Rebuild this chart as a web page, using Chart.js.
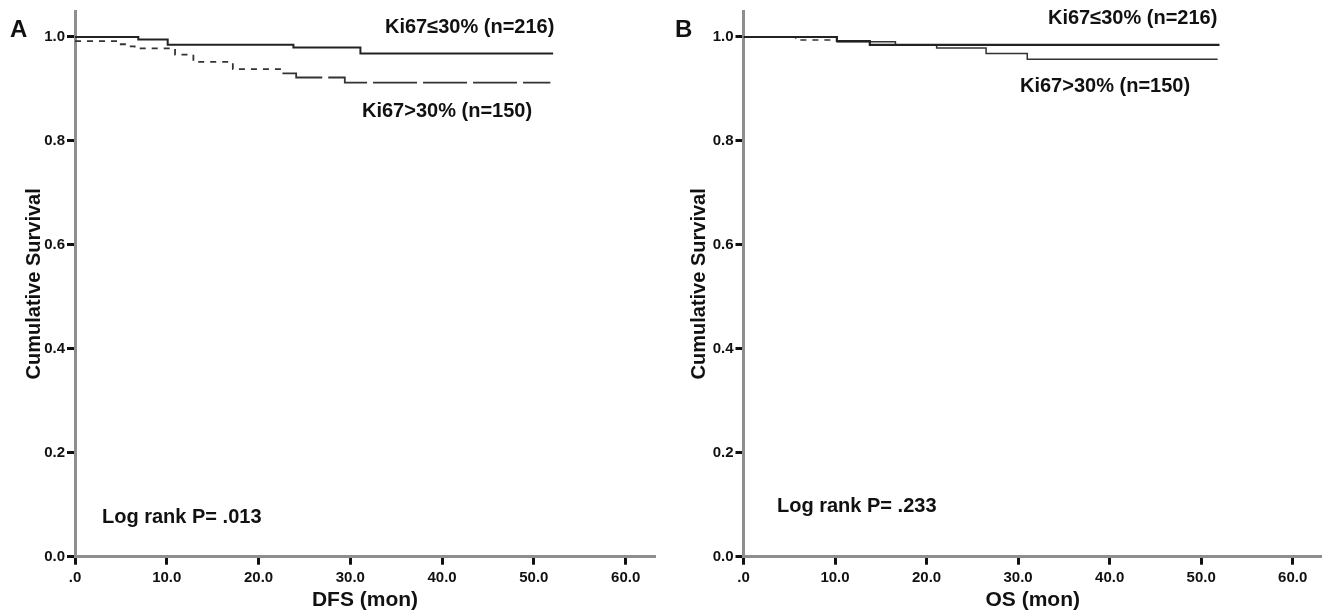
<!DOCTYPE html>
<html>
<head>
<meta charset="utf-8">
<script src="https://cdn.jsdelivr.net/npm/chart.js@4.4.1/dist/chart.umd.min.js"></script>
<style>
  html, body { margin: 0; padding: 0; background: #fff; }
  #wrap { position: relative; width: 1322px; height: 611px; background: #fff; overflow: hidden; }
  .pane { position: absolute; top: 0; width: 661px; height: 611px; }
  .txt { position: absolute; font-family: "Liberation Sans", Arial, sans-serif; font-weight: bold;
         font-size: 20px; line-height: 20px; color: #111; white-space: nowrap; }
  .big { font-size: 24px; line-height: 24px; }
</style>
</head>
<body>
<div id="wrap">
  <div class="pane" style="left:0"><canvas id="cA" width="661" height="611"></canvas></div>
  <div class="pane" style="left:661px"><canvas id="cB" width="661" height="611"></canvas></div>
  <div class="txt big" style="left:10px;top:17px">A</div>
  <div class="txt big" style="left:675px;top:17px">B</div>
  <div class="txt" style="left:385px;top:16px">Ki67≤30% (n=216)</div>
  <div class="txt" style="left:362px;top:100px">Ki67&gt;30% (n=150)</div>
  <div class="txt" style="left:102px;top:506px">Log rank P= .013</div>
  <div class="txt" style="left:1048px;top:7px">Ki67≤30% (n=216)</div>
  <div class="txt" style="left:1020px;top:75px">Ki67&gt;30% (n=150)</div>
  <div class="txt" style="left:777px;top:495px">Log rank P= .233</div>
</div>
<script>
// ---- Data ----
// Panel A: DFS
const dfsLowTimes  = [0, 6.9, 10.1, 23.8, 31.1, 52.1];
const dfsLowSurv   = [1.0, 0.995, 0.985, 0.980, 0.968, 0.968];
const dfsHighTimes = [0, 4.7, 5.6, 6.5, 10.9, 12.9, 17.2, 22.6, 24.1, 29.4, 51.8];
const dfsHighSurv  = [0.992, 0.986, 0.982, 0.978, 0.966, 0.952, 0.938, 0.930, 0.922, 0.912, 0.912];
// Panel B: OS
const osLowTimes   = [0, 10.2, 13.8, 52.0];
const osLowSurv    = [1.0, 0.992, 0.985, 0.985];
const osHighTimes  = [0, 5.7, 10.2, 16.6, 21.1, 26.5, 31.0, 51.8];
const osHighSurv   = [1.0, 0.994, 0.991, 0.985, 0.979, 0.968, 0.957, 0.957];
// Tick labels
const xTickValues = [0, 10, 20, 30, 40, 50, 60];
const xTickLabels = [".0", "10.0", "20.0", "30.0", "40.0", "50.0", "60.0"];
const yTickValues = [0, 0.2, 0.4, 0.6, 0.8, 1.0];
const yTickLabels = ["0.0", "0.2", "0.4", "0.6", "0.8", "1.0"];

function km(times, surv) { return times.map((t, i) => ({ x: t, y: surv[i] })); }

const FONT = "'Liberation Sans', Arial, sans-serif";

function makeChart(id, xTitle, low, high, opts) {
  return new Chart(document.getElementById(id), {
    type: 'line',
    data: {
      datasets: [
        { label: 'Ki67≤30%', data: low, stepped: 'before', borderColor: '#222', borderWidth: opts.lowWidth,
          pointRadius: 0, fill: false },
        { label: 'Ki67>30%', data: high, stepped: 'before', borderColor: '#333', borderWidth: opts.highWidth,
          pointRadius: 0, fill: false,
          segment: { borderDash: ctx => (ctx.p0.parsed.x < opts.dashUntil ? [6, 6] : (opts.longDash ? [44, 6] : [])) } }
      ]
    },
    options: {
      responsive: false,
      animation: false,
      events: [],
      layout: { padding: { left: 0, top: 6.5, right: opts.padRight, bottom: 0 } },
      plugins: { legend: { display: false }, tooltip: { enabled: false } },
      scales: {
        x: {
          type: 'linear', min: 0, max: 63.2,
          afterBuildTicks: s => { s.ticks = xTickValues.map(v => ({ value: v })); },
          afterFit: s => { s.height = 54.3; },
          ticks: { autoSkip: false, maxRotation: 0, padding: 4, color: '#111',
                   font: { family: FONT, size: 15, weight: 'bold' },
                   callback: v => { const i = xTickValues.indexOf(v); return i >= 0 ? xTickLabels[i] : ''; } },
          grid: { display: true, drawOnChartArea: false, drawTicks: true, tickLength: 8, tickWidth: 3, tickColor: '#111' },
          border: { display: true, color: '#8e8e8e', width: 3 },
          title: { display: true, text: xTitle, color: '#111', padding: { top: 0, bottom: 0 },
                   font: { family: FONT, size: 21, weight: 'bold', lineHeight: 1 } }
        },
        y: {
          type: 'linear', min: 0, max: 1.05,
          afterBuildTicks: s => { s.ticks = yTickValues.map(v => ({ value: v })); },
          afterFit: s => { s.width = opts.yWidth; },
          ticks: { autoSkip: false, padding: 2, color: '#111',
                   font: { family: FONT, size: 15, weight: 'bold' },
                   callback: v => { const i = yTickValues.findIndex(t => Math.abs(t - v) < 1e-9); return i >= 0 ? yTickLabels[i] : ''; } },
          grid: { display: true, drawOnChartArea: false, drawTicks: true, tickLength: 8, tickWidth: 3, tickColor: '#111' },
          border: { display: true, color: '#8e8e8e', width: 3 },
          title: { display: true, text: 'Cumulative Survival', color: '#111', padding: { top: opts.yTitlePad, bottom: 0 },
                   font: { family: FONT, size: 20, weight: 'bold', lineHeight: 1.2 } }
        }
      }
    }
  });
}

makeChart('cA', 'DFS (mon)', km(dfsLowTimes, dfsLowSurv), km(dfsHighTimes, dfsHighSurv),
  { padRight: 6, yWidth: 75, yTitlePad: 22, lowWidth: 2, highWidth: 1.8, dashUntil: 17.5, longDash: true });
makeChart('cB', 'OS (mon)', km(osLowTimes, osLowSurv), km(osHighTimes, osHighSurv),
  { padRight: 0, yWidth: 82.5, yTitlePad: 26, lowWidth: 2.2, highWidth: 1.5, dashUntil: 9, longDash: false });
</script>
</body>
</html>
